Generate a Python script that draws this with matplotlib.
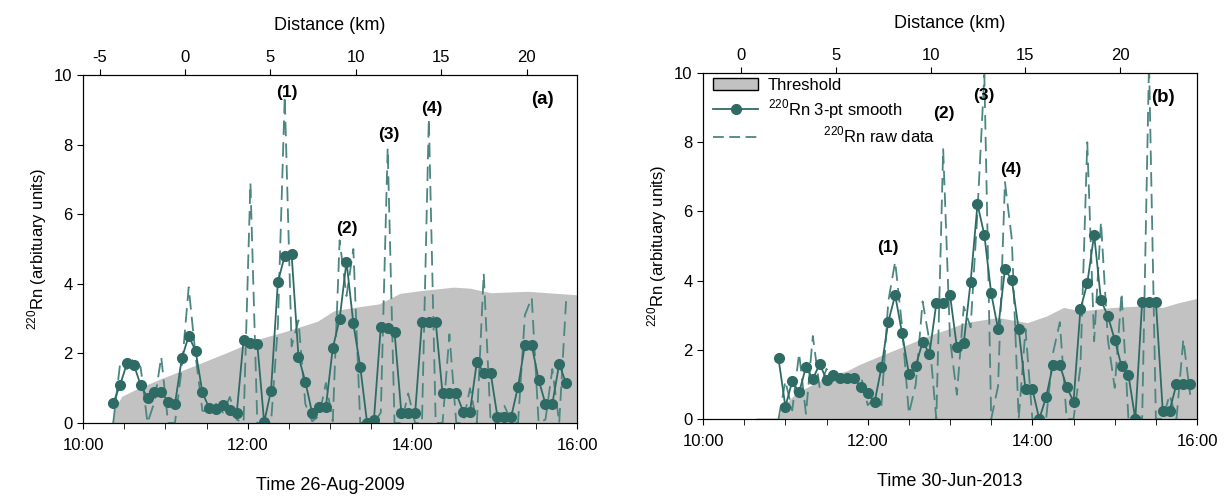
import matplotlib
matplotlib.use("Agg")
import matplotlib.pyplot as plt
import numpy as np
from matplotlib.patches import Patch
from matplotlib.lines import Line2D

plt.rcParams["font.family"] = ["Liberation Sans", "DejaVu Sans"]
plt.rcParams["mathtext.fontset"] = "custom"
plt.rcParams["mathtext.rm"] = "Liberation Sans"
plt.rcParams["axes.unicode_minus"] = False

# ---- panel (a): 26-Aug-2009, one sample every 5 min from 10:22 ----
A_START = 10 + 22 / 60
STEP = 5 / 60
A_SMOOTH = [0.57, 1.09, 1.71, 1.68, 1.09, 0.73, 0.90, 0.90, 0.61, 0.54,
            1.86, 2.50, 2.08, 0.88, 0.42, 0.39, 0.52, 0.37, 0.28, 2.39,
            2.31, 2.27, 0.02, 0.93, 4.06, 4.80, 4.85, 1.91, 1.19, 0.28,
            0.47, 0.47, 2.15, 2.99, 4.64, 2.86, 1.62, 0.01, 0.10, 2.77,
            2.72, 2.62, 0.28, 0.28, 0.28, 2.91, 2.91, 2.91, 0.85, 0.85,
            0.85, 0.33, 0.33, 1.76, 1.45, 1.45, 0.18, 0.18, 0.18, 1.04,
            2.24, 2.24, 1.24, 0.55, 0.55, 1.70, 1.14]
A_RAW = [0.0, 1.7, 1.55, 1.85, 1.6, 0.0, 0.6, 1.9, 0.0, 0.0,
         1.6, 3.9, 1.95, 0.35, 0.35, 0.55, 0.3, 0.75, 0.1, 0.0,
         6.9, 0.0, 0.0, 0.0, 2.8, 9.4, 2.2, 2.95, 0.55, 0.05,
         0.2, 1.15, 0.05, 5.25, 3.65, 5.0, 0.0, 0.0, 0.0, 0.3,
         7.9, 0.0, 0.0, 0.85, 0.0, 0.0, 8.75, 0.0, 0.0, 2.55,
         0.0, 0.0, 1.0, 0.0, 4.3, 0.05, 0.0, 0.5, 0.05, 0.0,
         3.1, 3.6, 0.0, 0.1, 1.55, 0.0, 3.5]
A_THR_T = [10.36, 10.40, 10.48, 10.65, 10.95, 11.35, 11.75, 12.15, 12.45, 12.85,
           13.05, 13.30, 13.60, 13.85, 14.10, 14.50, 14.70, 14.95, 15.40, 16.00]
A_THR_V = [0.0, 0.45, 0.75, 0.95, 1.25, 1.62, 2.0, 2.4, 2.6, 2.9,
           3.2, 3.3, 3.4, 3.7, 3.78, 3.88, 3.85, 3.72, 3.76, 3.66]
A_DIST = (-5.97, 22.95)
A_PEAKS = ["(1)", "(2)", "(3)", "(4)"]
A_PEAK_T = [12.48, 13.21, 13.72, 14.24]
A_PEAK_V = [9.5, 5.6, 8.3, 9.05]

# ---- panel (b): 30-Jun-2013, one sample every 5 min from 10:55 ----
B_START = 10 + 55 / 60
B_SMOOTH = [1.75, 0.36, 1.09, 0.77, 1.50, 1.16, 1.59, 1.14, 1.27, 1.18,
            1.19, 1.18, 0.92, 0.76, 0.48, 1.49, 2.81, 3.58, 2.49, 1.30,
            1.53, 2.23, 1.89, 3.34, 3.34, 3.58, 2.07, 2.20, 3.97, 6.21,
            5.32, 3.63, 2.60, 4.33, 4.02, 2.59, 0.86, 0.86, 0.0, 0.63,
            1.56, 1.56, 0.93, 0.50, 3.17, 3.92, 5.33, 3.43, 2.98, 2.29,
            1.52, 1.27, 0.0, 3.39, 3.39, 3.39, 0.24, 0.24, 1.01, 1.01, 1.01]
B_RAW = [0.0, 1.1, 0.25, 1.9, 0.15, 2.4, 0.9, 1.45, 1.1, 1.3,
         1.15, 1.1, 1.25, 0.4, 0.6, 0.4, 3.4, 4.55, 2.7, 0.15,
         1.0, 3.4, 2.25, 0.0, 7.8, 2.3, 0.7, 3.25, 2.65, 6.0,
         9.95, 0.0, 0.95, 6.85, 5.2, 0.0, 2.6, 0.0, 0.0, 0.0,
         1.9, 2.8, 0.0, 0.0, 1.5, 8.0, 2.25, 5.7, 2.3, 0.9,
         3.65, 0.0, 0.15, 0.0, 10.3, 0.0, 0.0, 0.7, 0.0, 2.3, 0.7]
B_THR_T = [10.65, 10.92, 10.98, 11.14, 11.34, 11.54, 11.75, 11.91, 12.15, 12.35,
           12.55, 12.79, 12.95, 13.18, 13.58, 13.94, 14.18, 14.38, 14.58, 14.98,
           15.38, 15.58, 15.78, 16.00]
B_THR_V = [0.0, 0.0, 0.36, 0.74, 0.98, 1.22, 1.37, 1.56, 1.80, 1.99,
           2.19, 2.43, 2.55, 2.76, 2.91, 2.76, 2.96, 3.2, 3.1, 3.2,
           3.25, 3.2, 3.34, 3.46]
B_DIST = (-2.0, 24.05)
B_PEAKS = ["(1)", "(2)", "(3)", "(4)"]
B_PEAK_T = [12.25, 12.92, 13.41, 13.74]
B_PEAK_V = [4.97, 8.84, 9.36, 7.2]

TIME_TICKS = [10, 12, 14, 16]
TIME_LABELS = ["10:00", "12:00", "14:00", "16:00"]
DIST_TICKS_A = [-5, 0, 5, 10, 15, 20]
DIST_TICKS_B = [0, 5, 10, 15, 20]

TEAL = "#2f6b65"
RAW_C = "#4c8681"
GRAY = "#c2c2c2"
NARROW = ["Liberation Sans Narrow", "Liberation Sans", "DejaVu Sans"]

fig = plt.figure(figsize=(12.28, 4.97), dpi=100)
ax_a = fig.add_axes([0.0676, 0.1489, 0.4023, 0.7002])
ax_b = fig.add_axes([0.5725, 0.1569, 0.4023, 0.6962])


def draw_panel(ax, start, smooth, raw, thr_t, thr_v, dist, dist_ticks,
               peaks, peak_t, peak_v, tag, date):
    t_s = start + STEP * np.arange(len(smooth))
    t_r = start + STEP * np.arange(len(raw))
    ax.fill_between(thr_t, 0, thr_v, color=GRAY, lw=1.2, zorder=1)
    ax.plot(t_r, raw, color=RAW_C, lw=1.3, ls=(0, (8, 4)), zorder=2)
    ax.plot(t_s, smooth, color=TEAL, lw=1.3, marker="o", ms=7, zorder=3)

    ax.set_xlim(10, 16)
    ax.set_ylim(0, 10)
    ax.set_xticks(TIME_TICKS)
    ax.set_xticklabels(TIME_LABELS, family=NARROW, fontsize=12)
    ax.set_xticks(np.arange(10, 16.01, 0.5), minor=True)
    ax.set_yticks([0, 2, 4, 6, 8, 10])
    ax.tick_params(axis="y", labelsize=12, length=4)
    ax.tick_params(axis="x", which="both", length=4, pad=7)
    ax.set_xlabel("Time " + date, family=NARROW, fontsize=13, labelpad=17)
    ax.set_ylabel("$^{220}$Rn (arbituary units)", fontsize=12)

    top = ax.twiny()
    top.set_xlim(*dist)
    top.set_xticks(dist_ticks)
    top.tick_params(axis="x", labelsize=12, length=4)
    top.set_xlabel("Distance (km)", fontsize=13, labelpad=14)

    for lab, tx, ty in zip(peaks, peak_t, peak_v):
        ax.text(tx, ty, lab, ha="center", va="center", fontsize=12.5,
                fontweight="bold", zorder=5)
    ax.text(0.93, 0.93, tag, transform=ax.transAxes, ha="center", va="center",
            fontsize=13.5, fontweight="bold")


draw_panel(ax_a, A_START, A_SMOOTH, A_RAW, A_THR_T, A_THR_V, A_DIST,
           DIST_TICKS_A, A_PEAKS, A_PEAK_T, A_PEAK_V, "(a)", "26-Aug-2009")
draw_panel(ax_b, B_START, B_SMOOTH, B_RAW, B_THR_T, B_THR_V, B_DIST,
           DIST_TICKS_B, B_PEAKS, B_PEAK_T, B_PEAK_V, "(b)", "30-Jun-2013")

handles = [
    Patch(facecolor=GRAY, edgecolor="black", lw=1),
    Line2D([], [], color=TEAL, lw=1.3, marker="o", ms=7),
    Line2D([], [], color=RAW_C, lw=1.3, ls=(0, (6, 3))),
]
labels = ["Threshold", "$^{220}$Rn 3-pt smooth", "            $^{220}$Rn raw data"]
ax_b.legend(handles, labels, loc="upper left", bbox_to_anchor=(0.0, 1.015),
            frameon=False, fontsize=12, handlelength=2.7, handletextpad=0.6,
            borderaxespad=0.2, labelspacing=0.25)

fig.savefig("out.png", dpi=100)
